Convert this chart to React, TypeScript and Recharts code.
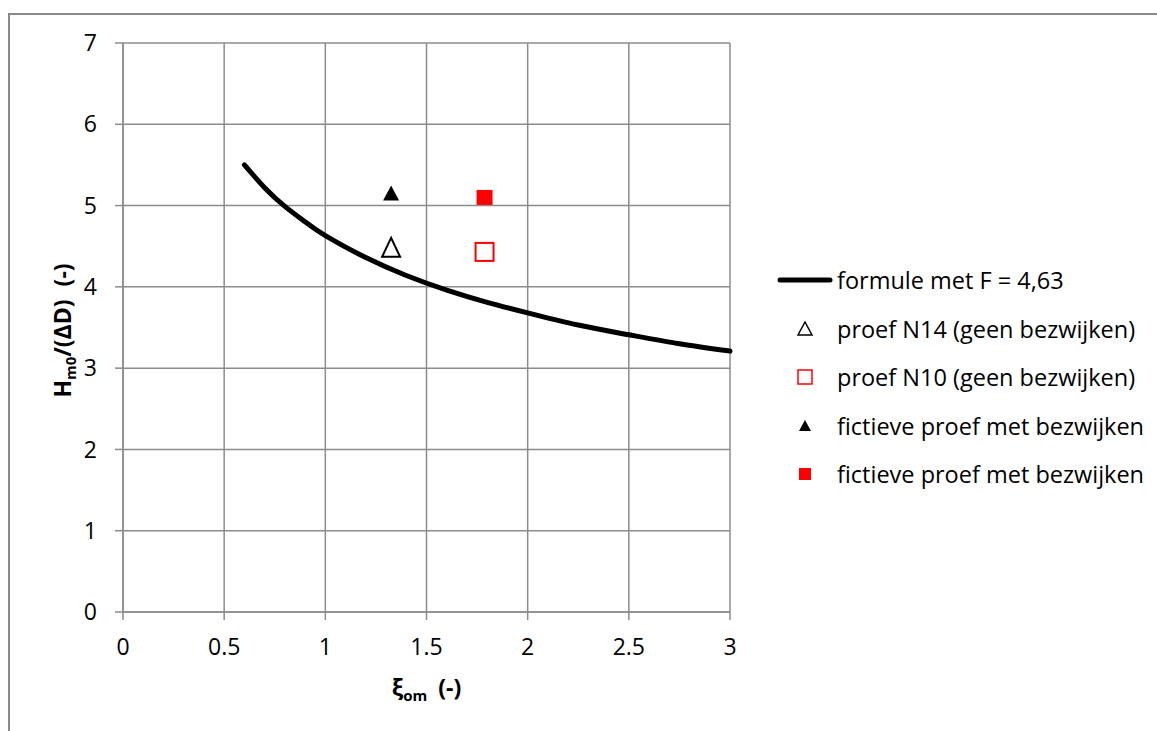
import { ComposedChart, Line, Scatter, XAxis, YAxis, CartesianGrid } from 'recharts';

// curve (xi_om, Hm0/(ΔD))
const curveX = [0.6, 0.7, 0.8, 0.9, 1.0, 1.2, 1.4, 1.6, 1.8, 2.0, 2.25, 2.5, 2.75, 3.0];
const curveY = [5.5, 5.22, 4.99, 4.8, 4.63, 4.36, 4.14, 3.96, 3.81, 3.68, 3.53, 3.41, 3.3, 3.21];
const curve = curveX.map((x, i) => ({ x, y: curveY[i] }));

const proefN14 = [{ x: 1.325, y: 4.48 }];
const proefN10 = [{ x: 1.787, y: 4.43 }];
const fictiefTri = [{ x: 1.325, y: 5.15 }];
const fictiefSq = [{ x: 1.787, y: 5.1 }];

const xTicks = [0, 0.5, 1, 1.5, 2, 2.5, 3];
const yTicks = [0, 1, 2, 3, 4, 5, 6, 7];

const legendNames = [
  'formule met F = 4,63',
  'proef N14 (geen bezwijken)',
  'proef N10 (geen bezwijken)',
  'fictieve proef met bezwijken',
  'fictieve proef met bezwijken',
];

const FONT = '"Open Sans", sans-serif';
const FS = 23;
const GRID = '#8c8c8c';

function OpenTriangle(props: any) {
  const { cx, cy } = props;
  return <polygon points={`${cx},${cy - 10} ${cx - 9},${cy + 9} ${cx + 9},${cy + 9}`} fill="#fff" stroke="#000" strokeWidth={2} />;
}
function FilledTriangle(props: any) {
  const { cx, cy } = props;
  return <polygon points={`${cx},${cy - 8} ${cx - 8},${cy + 7} ${cx + 8},${cy + 7}`} fill="#000" />;
}
function OpenSquare(props: any) {
  const { cx, cy } = props;
  return <rect x={cx - 9} y={cy - 9} width={18} height={18} fill="#fff" stroke="#ff0000" strokeWidth={2} />;
}
function FilledSquare(props: any) {
  const { cx, cy } = props;
  return <rect x={cx - 8} y={cy - 7.5} width={16} height={15} fill="#ff0000" />;
}

function legendSymbol(i: number) {
  const c = 28;
  if (i === 0) return <line x1={3} y1={12} x2={53} y2={12} stroke="#000" strokeWidth={5} strokeLinecap="round" />;
  if (i === 1) return <polygon points={`${c},5 ${c - 7},18 ${c + 7},18`} fill="#fff" stroke="#000" strokeWidth={1.5} />;
  if (i === 2) return <rect x={c - 7} y={5} width={14} height={14} fill="#fff" stroke="#ff0000" strokeWidth={1.5} />;
  if (i === 3) return <polygon points={`${c},6 ${c - 6},17 ${c + 6},17`} fill="#000" />;
  return <rect x={c - 6} y={6} width={12} height={12} fill="#ff0000" />;
}

function ChartLegend() {
  return (
    <div style={{ position: 'absolute', left: 767, top: 241, fontFamily: FONT, fontSize: 23.5, color: '#000' }}>
      {legendNames.map((name, i) => (
        <div key={i} style={{ display: 'flex', alignItems: 'center', height: 48.5 }}>
          <svg width={60} height={24} style={{ flex: 'none' }}>{legendSymbol(i)}</svg>
          <span style={{ whiteSpace: 'nowrap' }}>{name}</span>
        </div>
      ))}
    </div>
  );
}

function XTitle(props: any) {
  const { viewBox } = props;
  const cx = viewBox.x + viewBox.width / 2;
  return (
    <text x={cx} y={viewBox.y + 84} textAnchor="middle" fontFamily={FONT} fontWeight="bold" fontSize={FS} fill="#000">
      ξ<tspan fontSize={15} dy={5}>om</tspan>
      <tspan dy={-5} dx={11}>(-)</tspan>
    </text>
  );
}

function YTitle(props: any) {
  const { viewBox } = props;
  const cy = viewBox.y + viewBox.height / 2 + 3;
  const x = 61;
  return (
    <text x={x} y={cy} transform={`rotate(-90 ${x} ${cy})`} textAnchor="middle" fontFamily={FONT} fontWeight="bold" fontSize={FS} fill="#000">
      H<tspan fontSize={15} dy={5}>m0</tspan>
      <tspan dy={-5}>/(ΔD)</tspan>
      <tspan dx={13}>(-)</tspan>
    </text>
  );
}

export default function App() {
  return (
    <div style={{ position: 'absolute', left: 8, top: 13, width: 1149, height: 718, borderLeft: '2px solid #8a8a8a', borderTop: '2px solid #8a8a8a', background: '#fff' }}>
      <ComposedChart width={1147} height={716} margin={{ top: 28, right: 427, bottom: 89, left: 63 }}>
        <CartesianGrid stroke={GRID} strokeWidth={1.5} />
        <XAxis
          type="number"
          dataKey="x"
          domain={[0, 3]}
          ticks={xTicks}
          interval={0}
          height={30}
          tickSize={8}
          tickMargin={19}
          axisLine={{ stroke: GRID, strokeWidth: 1.5 }}
          tickLine={{ stroke: GRID, strokeWidth: 1.5 }}
          tick={{ fontFamily: FONT, fontSize: FS, fill: '#000' }}
          label={<XTitle />}
        />
        <YAxis
          type="number"
          domain={[0, 7]}
          ticks={yTicks}
          interval={0}
          width={50}
          tickSize={8}
          tickMargin={18}
          axisLine={{ stroke: GRID, strokeWidth: 1.5 }}
          tickLine={{ stroke: GRID, strokeWidth: 1.5 }}
          tick={{ fontFamily: FONT, fontSize: FS, fill: '#000' }}
          label={<YTitle />}
        />
        <Line data={curve} dataKey="y" type="natural" stroke="#000" strokeWidth={5} strokeLinecap="round" dot={false} activeDot={false} isAnimationActive={false} name={legendNames[0]} />
        <Scatter data={proefN14} dataKey="y" shape={<OpenTriangle />} isAnimationActive={false} name={legendNames[1]} />
        <Scatter data={proefN10} dataKey="y" shape={<OpenSquare />} isAnimationActive={false} name={legendNames[2]} />
        <Scatter data={fictiefTri} dataKey="y" shape={<FilledTriangle />} isAnimationActive={false} name={legendNames[3]} />
        <Scatter data={fictiefSq} dataKey="y" shape={<FilledSquare />} isAnimationActive={false} name={legendNames[4]} />
      </ComposedChart>
      <ChartLegend />
    </div>
  );
}
